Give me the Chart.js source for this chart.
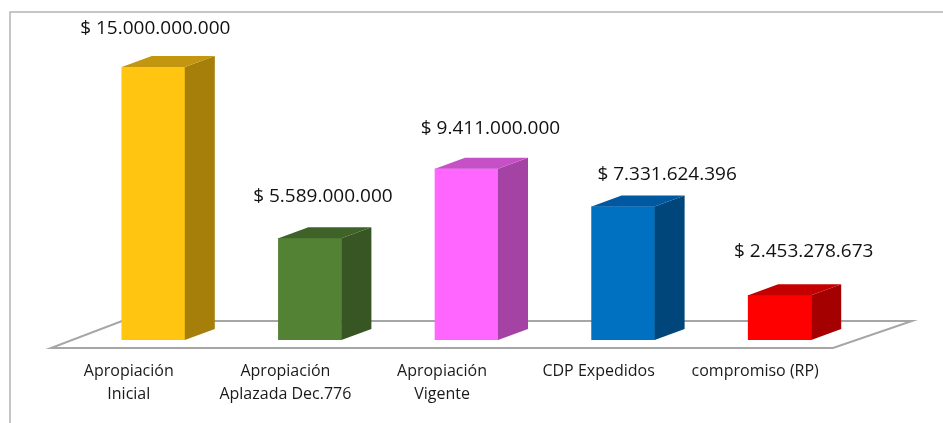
<!DOCTYPE html>
<html>
<head>
<meta charset="utf-8">
<script src="https://cdn.jsdelivr.net/npm/chart.js@4/dist/chart.umd.min.js"></script>
<style>
  body { margin: 0; background: #fff; }
  #wrap { width: 943px; height: 423px; }
</style>
</head>
<body>
<div id="wrap"><canvas id="presupuesto" width="943" height="423"></canvas></div>
<script>
// datos
const categorias = [
    ['Apropiación', 'Inicial'],
    ['Apropiación', 'Aplazada Dec.776'],
    ['Apropiación', 'Vigente'],
    'CDP Expedidos',
    'compromiso (RP)'
]
const valores = [15000000000, 5589000000, 9411000000, 7331624396, 2453278673]

// colores: frente, lado, tapa
const colFrente = ['#FFC511', '#548235', '#FF66FF', '#0070C0', '#FF0000']
const colLado = ['#A67F0B', '#375623', '#A443A4', '#00467A', '#A50000']
const colTapa = ['#C2960F', '#3F6228', '#C651C6', '#0059A0', '#C40000']

// pequeños ajustes de posicion de las etiquetas (px)
const labelNudge = [[2, -27], [13, -31], [24, -29], [44, -21], [24, -33]]

const depthX = 30
const depthY = 11

function formatPesos(v) {
    return '$ ' + Math.round(v).toString().replace(/\B(?=(\d{3})+(?!\d))/g, '.')
}

const efecto3d = {
    id: 'efecto3d',
    beforeDraw(chart) {
        const ctx = chart.ctx
        ctx.save()
        ctx.strokeStyle = '#B4B4B4'
        ctx.lineWidth = 1.5
        ctx.beginPath()
        ctx.moveTo(10, 423)
        ctx.lineTo(10, 12)
        ctx.lineTo(943, 12)
        ctx.stroke()
        ctx.restore()
    },
    beforeDatasetsDraw(chart) {
        const ctx = chart.ctx
        const a = chart.chartArea
        ctx.save()
        ctx.strokeStyle = '#A6A6A6'
        ctx.lineWidth = 2
        ctx.fillStyle = '#fff'
        ctx.beginPath()
        ctx.moveTo(a.left - 24, a.bottom + 8)
        ctx.lineTo(a.right - 25, a.bottom + 8)
        ctx.lineTo(a.right + 54, a.bottom - 19)
        ctx.lineTo(a.left + 47, a.bottom - 19)
        ctx.closePath()
        ctx.fill()
        ctx.stroke()
        ctx.restore()
    },
    afterDatasetsDraw(chart) {
        const ctx = chart.ctx
        const meta = chart.getDatasetMeta(0)
        ctx.save()
        meta.data.forEach(function(bar, i) {
            const p = bar.getProps(['x', 'y', 'base', 'width'], true)
            const l = p.x - p.width / 2
            const r = p.x + p.width / 2
            // lado
            ctx.fillStyle = colLado[i]
            ctx.beginPath()
            ctx.moveTo(r, p.y)
            ctx.lineTo(r + depthX, p.y - depthY)
            ctx.lineTo(r + depthX, p.base - depthY)
            ctx.lineTo(r, p.base)
            ctx.closePath()
            ctx.fill()
            // tapa
            ctx.fillStyle = colTapa[i]
            ctx.beginPath()
            ctx.moveTo(l, p.y)
            ctx.lineTo(l + depthX, p.y - depthY)
            ctx.lineTo(r + depthX, p.y - depthY)
            ctx.lineTo(r, p.y)
            ctx.closePath()
            ctx.fill()
            // etiqueta
            ctx.fillStyle = '#111'
            ctx.font = '19px "Open Sans"'
            ctx.textAlign = 'center'
            ctx.textBaseline = 'middle'
            ctx.fillText(formatPesos(valores[i]), p.x + labelNudge[i][0], p.y - depthY + labelNudge[i][1])
        })
        ctx.restore()
    }
}

new Chart(document.getElementById('presupuesto'), {
    type: 'bar',
    data: {
        labels: categorias,
        datasets: [{
            data: valores,
            backgroundColor: colFrente,
            borderWidth: 0,
            barThickness: 63
        }]
    },
    options: {
        responsive: false,
        animation: false,
        layout: {
            padding: { top: 67, left: 75, right: 85, bottom: 17 }
        },
        plugins: {
            legend: { display: false },
            tooltip: { enabled: false }
        },
        scales: {
            x: {
                grid: { display: false, drawTicks: false },
                border: { display: false },
                afterFit(scale) {
                    scale.height = 66
                },
                ticks: {
                    color: '#1a1a1a',
                    padding: 20,
                    labelOffset: -24.5,
                    maxRotation: 0,
                    autoSkip: false,
                    font: { family: 'Open Sans', size: 16, lineHeight: 1.45 }
                }
            },
            y: {
                display: false,
                min: 0,
                max: 15000000000
            }
        }
    },
    plugins: [efecto3d]
})
</script>
</body>
</html>
